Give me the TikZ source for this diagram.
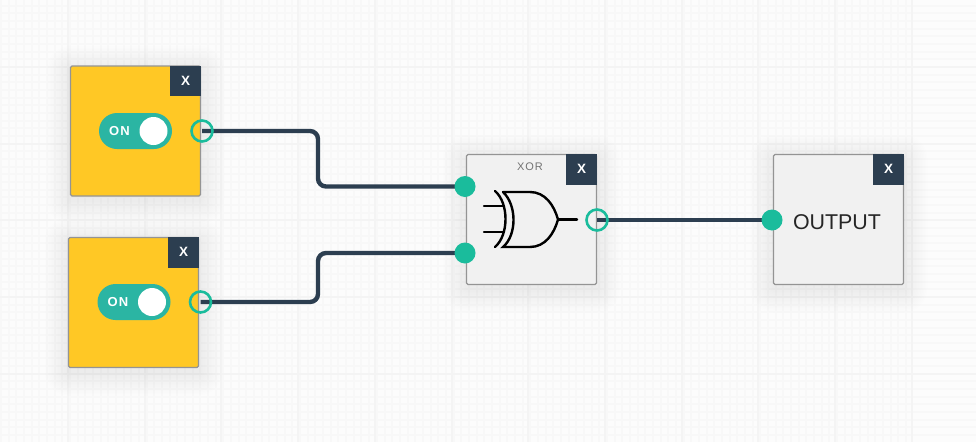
\documentclass[tikz,border=0pt]{standalone}
\usepackage{fontspec}
\setmainfont{Liberation Sans}
\definecolor{panel}{HTML}{F1F1F1}
\definecolor{slate}{HTML}{2C3E50}
\definecolor{amber}{HTML}{FFC825}
\definecolor{teal}{HTML}{1ABC9C}
\definecolor{togglegreen}{HTML}{2BB5A3}
\definecolor{gridline}{HTML}{F8F8F8}
\definecolor{gridmajor}{HTML}{F4F4F4}
\pgfdeclarelayer{ports}
\pgfsetlayers{main,ports}
\tikzset{
    block/.style={draw=black!42, line width=1.2pt, rounded corners=1.5pt, minimum size=130pt, inner sep=0pt},
    switchblock/.style={block, fill=amber},
    gateblock/.style={block, fill=panel},
    closebox/.style={fill=slate, minimum size=30.5pt, inner sep=0pt, text=white, font=\bfseries\fontsize{13.5}{13.5}\selectfont},
    toggle/.style={fill=togglegreen, rounded corners=18pt, minimum width=73pt, minimum height=36pt, inner sep=0pt},
    knob/.style={circle, fill=white, minimum size=28pt, inner sep=0pt},
    toggletext/.style={text=white, inner sep=0pt, font=\bfseries\fontsize{13}{13}\selectfont\addfontfeatures{LetterSpace=8}},
    porton/.style={circle, fill=teal, minimum size=21pt, inner sep=0pt},
    portoff/.style={circle, draw=teal, line width=2.6pt, minimum size=21pt, inner sep=0pt},
    wire/.style={draw=slate, line width=4.4pt, rounded corners=8pt},
    symbol/.style={line width=2.4pt, line cap=round},
}
\begin{document}
\begin{tikzpicture}[x=1pt,y=-1pt]

    \useasboundingbox (0,0) rectangle (976,442);
    \fill[black!1] (0,0) rectangle (976,442);

    % background grid
    \foreach \k in {-8,...,118} \draw[gridline, line width=2pt] (1+7.67*\k,0) -- (1+7.67*\k,442);
    \foreach \k in {-2,...,56} \draw[gridline, line width=2pt] (0,5.5+7.67*\k) -- (976,5.5+7.67*\k);
    \foreach \k in {-1,...,12} \draw[gridmajor, line width=2pt] (68+76.7*\k,0) -- (68+76.7*\k,442);
    \foreach \k in {0,...,5} \draw[gridmajor, line width=2pt] (0,67+76.7*\k) -- (976,67+76.7*\k);

    % soft shadows
    \foreach \cx/\cy in {135.5/131, 133.5/302.5, 531.5/219.5, 838.5/219.5}
        \foreach \r in {1.5,3,...,24}
            \fill[black, opacity=0.005, rounded corners=\r pt]
                (\cx-65-\r,\cy-65-\r+4) rectangle (\cx+65+\r,\cy+65+\r+4);

    \node[switchblock] (switcha) at (135.5,131) {};
    \node[switchblock] (switchb) at (133.5,302.5) {};
    \node[gateblock] (xorgate) at (531.5,219.5) {};
    \node[gateblock] (output) at (838.5,219.5) {};

    \node[closebox, anchor=north east] (closea) at (switcha.north east) {X};
    \node[closebox, anchor=north east] (closeb) at (switchb.north east) {X};
    \node[closebox, anchor=north east] (closexor) at (xorgate.north east) {X};
    \node[closebox, anchor=north east] (closeout) at (output.north east) {X};

    % toggles
    \node[toggle] (togglea) at (135.5,131) {};
    \node[knob] (knoba) at (153.5,131) {};
    \node[toggletext] (ona) at (119.5,131) {ON};
    \node[toggle] (toggleb) at (134,302) {};
    \node[knob] (knobb) at (152,302) {};
    \node[toggletext] (onb) at (118,302) {ON};

    \node[text=black!55, inner sep=0pt, font=\fontsize{11}{11}\selectfont\addfontfeatures{LetterSpace=8}] (xorlabel) at (530,167) {XOR};
    \node[text=black!85, inner sep=0pt, font=\fontsize{21.4}{21.4}\selectfont] (outlabel) at (837,222.5) {OUTPUT};

    % xor symbol
    \draw[symbol] (503,192) -- (530,192) .. controls (545,192) and (554,205) .. (558,219.5)
        .. controls (554,234) and (545,247) .. (530,247) -- (503,247)
        .. controls (517,235) and (517,205) .. (503,192);
    \draw[symbol] (495,191) .. controls (509,203) and (509,235) .. (495,247);
    \draw[symbol] (484,206) -- (503,206);
    \draw[symbol] (484,232) -- (503,232);
    \draw[symbol] (559,219.5) -- (577,219.5);

    % ports
    \begin{pgfonlayer}{ports}
    \node[portoff] (outa) at (202,131) {};
    \node[portoff] (outb) at (200.5,302) {};
    \node[porton] (ina) at (465,186.5) {};
    \node[porton] (inb) at (465,253) {};
    \node[portoff] (outxor) at (597,220) {};
    \node[porton] (inout) at (772,220) {};
    \end{pgfonlayer}

    \coordinate (benda) at (318,158);
    \coordinate (bendb) at (318,278);

    \draw[wire] (outa.center) -| (benda) |- (ina.center);
    \draw[wire] (outb.center) -| (bendb) |- (inb.center);
    \draw[wire] (outxor.center) -- (inout.center);

\end{tikzpicture}
\end{document}
